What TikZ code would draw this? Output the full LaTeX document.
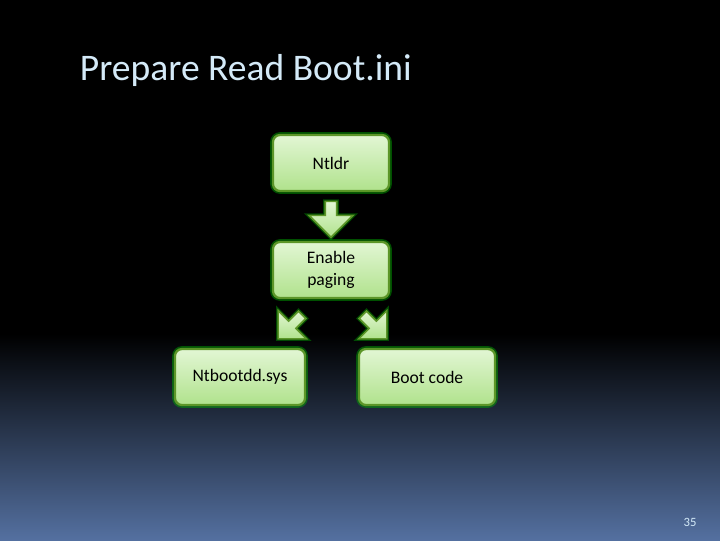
\documentclass[tikz,border=0pt]{standalone}
\usepackage{fontspec}
\setmainfont{Carlito}
\usetikzlibrary{shapes.arrows,positioning,calc}
\definecolor{slidetop}{RGB}{0,0,0}
\definecolor{slidebot}{RGB}{84,112,160}
\definecolor{titlecol}{RGB}{212,234,248}
\definecolor{boxline}{RGB}{92,150,40}
\definecolor{boxlight}{RGB}{226,246,212}
\definecolor{boxdark}{RGB}{176,226,140}
\tikzset{
  stepbox/.style={draw=boxline, line width=1.6pt, rounded corners=5pt,
                  top color=boxlight, bottom color=boxdark,
                  minimum width=2.9cm, minimum height=1.4cm, align=center,
                  font=\fontsize{12.5}{15.6}\selectfont,
                  preaction={draw=green!70!black, line width=4pt, opacity=0.45}},
  blockarrow/.style={single arrow, draw=boxline, line width=1.2pt,
                  top color=boxlight, bottom color=boxdark, shading angle=0,
                  minimum height=0.9cm, minimum width=1.1cm,
                  single arrow head extend=0.16cm, inner sep=1pt,
                  preaction={draw=green!70!black, line width=3pt, opacity=0.4}},
}
\begin{document}
\begin{tikzpicture}[x=0.025cm, y=-0.025cm]
  % slide background
  \fill[slidetop] (0,0) rectangle (720,335);
  \shade[top color=slidetop, bottom color=slidebot] (0,334) rectangle (720,540);
  \useasboundingbox (0,0) rectangle (720,540);
  \node[anchor=west, text=titlecol, font=\fontsize{26.7}{30}\selectfont] (title) at (75,70) {Prepare Read Boot.ini};
  % boxes
  \node[stepbox] (ntldr) at (331,163) {Ntldr};
  \node[stepbox] (paging) at (331,270) {Enable\\paging};
  \node[stepbox, minimum width=3.25cm] (ntboot) at (240,377) {Ntbootdd.sys};
  \node[stepbox, minimum width=3.4cm] (bootcode) at (427,377) {Boot code};
  % arrows between boxes
  \node[blockarrow, rotate=-90] (a1) at ($(ntldr.south)!0.5!(paging.north)$) {};
  \node[blockarrow, rotate=-135, minimum height=0.85cm, minimum width=1.0cm] (a2) at (292,325) {};
  \node[blockarrow, rotate=-45, minimum height=0.85cm, minimum width=1.0cm] (a3) at (373,325) {};
  \node[text=titlecol, font=\fontsize{9}{10}\selectfont] (pagenum) at (690,522) {35};
\end{tikzpicture}
\end{document}
